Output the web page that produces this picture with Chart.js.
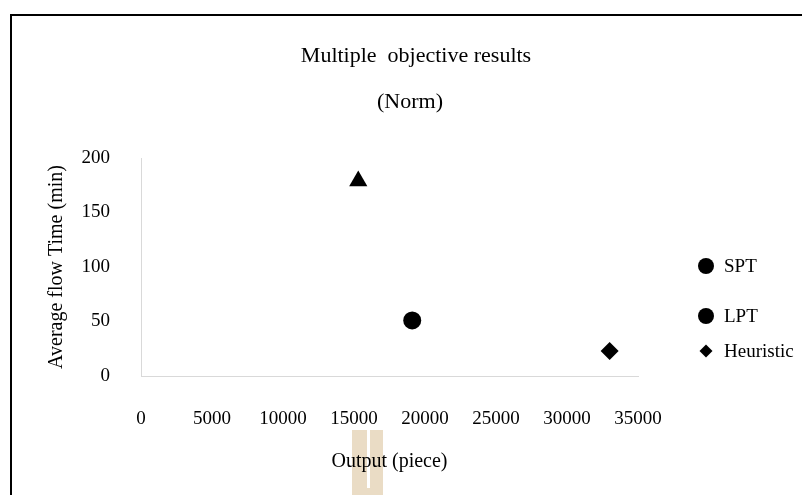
<!DOCTYPE html>
<html>
<head>
<meta charset="utf-8">
<script src="https://cdn.jsdelivr.net/npm/chart.js@4.4.0/dist/chart.umd.min.js"></script>
<style>
  html, body { margin: 0; padding: 0; background: #fff; }
  canvas { display: block; }
</style>
</head>
<body>
<canvas id="myChart" width="802" height="495"></canvas>
<script>
// data
const seriesNames = ['SPT', 'LPT', 'Heuristic'];
const outputPiece = [19100, 15300, 33000];
const flowTime = [51, 179, 23];
const markerStyles = ['circle', 'triangle', 'rectRot'];
const legendStyles = ['circle', 'circle', 'rectRot'];
const titleLines = ['Multiple  objective results', '(Norm)'];
const xTicks = [0, 5000, 10000, 15000, 20000, 25000, 30000, 35000];
const yTicks = [0, 50, 100, 150, 200];

const serif = "'Liberation Serif', 'Times New Roman', serif";

const datasets = seriesNames.map((name, i) => ({
    label: name,
    data: [{ x: outputPiece[i], y: flowTime[i] }],
    pointStyle: markerStyles[i],
    pointRadius: markerStyles[i] === 'triangle' ? 10.5 : 9,
    backgroundColor: '#000',
    borderColor: '#000',
    borderWidth: 0
}));

// frame, title, legend and the beige smudge under the x title
const decor = {
    id: 'decor',
    beforeDraw(chart) {
        const c = chart.ctx;
        c.save();
        c.fillStyle = '#fff';
        c.fillRect(0, 0, chart.width, chart.height);
        c.fillStyle = '#eadcc5';
        c.fillRect(352, 430, 31, 65);
        c.fillStyle = '#fff';
        c.fillRect(367, 430, 3, 58);
        c.strokeStyle = '#000';
        c.lineWidth = 2;
        c.beginPath();
        c.moveTo(11, chart.height);
        c.lineTo(11, 15);
        c.lineTo(chart.width, 15);
        c.stroke();
        c.restore();
    },
    afterDraw(chart) {
        const c = chart.ctx;
        c.save();
        c.fillStyle = '#000';
        c.textBaseline = 'middle';
        c.textAlign = 'center';
        c.font = '22px ' + serif;
        c.fillText(titleLines[0], 416, 56);
        c.fillText(titleLines[1], 410, 102);

        const rows = [266, 316, 351];
        c.textAlign = 'left';
        c.font = '19px ' + serif;
        seriesNames.forEach((name, i) => {
            const style = legendStyles[i];
            Chart.helpers.drawPoint(c, {
                pointStyle: style,
                radius: style === 'rectRot' ? 6.5 : 8,
                borderWidth: 0
            }, 706, rows[i]);
            c.fillText(name, 724, rows[i] + 1);
        });
        c.restore();
    }
};

const ctx = document.getElementById('myChart').getContext('2d');
const myChart = new Chart(ctx, {
    type: 'scatter',
    data: { datasets: datasets },
    options: {
        responsive: false,
        animation: false,
        devicePixelRatio: 1,
        layout: {
            padding: { top: 158, right: 164, left: 0, bottom: 0 }
        },
        plugins: {
            legend: { display: false },
            title: { display: false },
            tooltip: { enabled: false }
        },
        scales: {
            x: {
                type: 'linear',
                min: 0,
                max: 35000,
                afterBuildTicks: (scale) => {
                    scale.ticks = xTicks.map(v => ({ value: v }));
                },
                afterFit: (scale) => { scale.height = 119; },
                grid: { display: false, drawTicks: false },
                border: { display: true, color: '#d9d9d9', width: 1 },
                ticks: {
                    padding: 32,
                    color: '#000',
                    maxRotation: 0,
                    autoSkip: false,
                    font: { family: serif, size: 19 },
                    callback: (v) => String(v)
                },
                title: {
                    display: true,
                    text: 'Output (piece)',
                    color: '#000',
                    font: { family: serif, size: 20 },
                    padding: { top: 0, bottom: 21 }
                }
            },
            y: {
                type: 'linear',
                min: 0,
                max: 200,
                afterBuildTicks: (scale) => {
                    scale.ticks = yTicks.map(v => ({ value: v }));
                },
                afterFit: (scale) => { scale.width = 141; },
                grid: { display: false, drawTicks: false },
                border: { display: true, color: '#d9d9d9', width: 1 },
                ticks: {
                    padding: 31,
                    color: '#000',
                    font: { family: serif, size: 19 },
                    callback: (v) => String(v)
                },
                title: {
                    display: true,
                    text: 'Average flow Time (min)',
                    color: '#000',
                    font: { family: serif, size: 20 },
                    padding: { top: 45, bottom: 0 }
                }
            }
        }
    },
    plugins: [decor]
});
</script>
</body>
</html>
